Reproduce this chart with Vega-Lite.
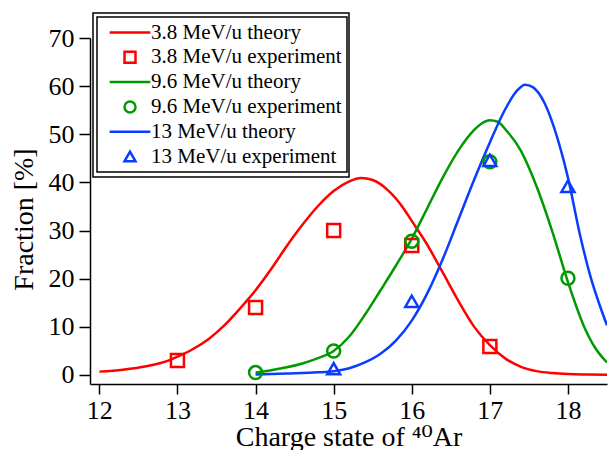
{
  "$schema": "https://vega.github.io/schema/vega-lite/v6.json",
  "width": 517,
  "height": 346,
  "autosize": {"type": "none"},
  "padding": {"left": 90, "top": 38, "right": 5, "bottom": 66},
  "background": "white",
  "config": {
    "view": {"stroke": null},
    "font": "Liberation Serif, Times New Roman, DejaVu Serif, serif",
    "axis": {
      "labelFont": "Liberation Serif, Times New Roman, DejaVu Serif, serif",
      "titleFont": "Liberation Serif, Times New Roman, DejaVu Serif, serif",
      "labelFontSize": 26,
      "titleFontSize": 28,
      "titleFontWeight": "normal",
      "labelColor": "black",
      "titleColor": "black",
      "domainColor": "black",
      "tickColor": "black",
      "domainWidth": 1.5,
      "tickWidth": 1.5,
      "tickSize": 10,
      "grid": false
    },
    "legend": {
      "strokeWidth": 1.5,
      "labelFont": "Liberation Serif, Times New Roman, DejaVu Serif, serif"
    },
    "point": {"size": 169}
  },
  "datasets": {
    "theory": [
      {"series": "3.8 MeV/u theory", "q": 12.0, "f": 0.7},
      {"series": "3.8 MeV/u theory", "q": 12.3, "f": 1.1},
      {"series": "3.8 MeV/u theory", "q": 12.6, "f": 1.8},
      {"series": "3.8 MeV/u theory", "q": 12.9, "f": 3.1},
      {"series": "3.8 MeV/u theory", "q": 13.0, "f": 3.8},
      {"series": "3.8 MeV/u theory", "q": 13.2, "f": 5.4},
      {"series": "3.8 MeV/u theory", "q": 13.4, "f": 7.5},
      {"series": "3.8 MeV/u theory", "q": 13.6, "f": 10.3},
      {"series": "3.8 MeV/u theory", "q": 13.8, "f": 13.8},
      {"series": "3.8 MeV/u theory", "q": 14.0, "f": 17.6},
      {"series": "3.8 MeV/u theory", "q": 14.2, "f": 22.0},
      {"series": "3.8 MeV/u theory", "q": 14.4, "f": 26.8},
      {"series": "3.8 MeV/u theory", "q": 14.6, "f": 31.2},
      {"series": "3.8 MeV/u theory", "q": 14.8, "f": 35.1},
      {"series": "3.8 MeV/u theory", "q": 15.0, "f": 38.2},
      {"series": "3.8 MeV/u theory", "q": 15.2, "f": 40.2},
      {"series": "3.8 MeV/u theory", "q": 15.35, "f": 40.9},
      {"series": "3.8 MeV/u theory", "q": 15.5, "f": 40.5},
      {"series": "3.8 MeV/u theory", "q": 15.7, "f": 38.3},
      {"series": "3.8 MeV/u theory", "q": 15.9, "f": 34.5},
      {"series": "3.8 MeV/u theory", "q": 16.0, "f": 32.0},
      {"series": "3.8 MeV/u theory", "q": 16.2, "f": 27.0},
      {"series": "3.8 MeV/u theory", "q": 16.4, "f": 21.2},
      {"series": "3.8 MeV/u theory", "q": 16.6, "f": 15.3},
      {"series": "3.8 MeV/u theory", "q": 16.8, "f": 10.0},
      {"series": "3.8 MeV/u theory", "q": 17.0, "f": 6.2},
      {"series": "3.8 MeV/u theory", "q": 17.2, "f": 3.4},
      {"series": "3.8 MeV/u theory", "q": 17.4, "f": 1.7},
      {"series": "3.8 MeV/u theory", "q": 17.6, "f": 0.8},
      {"series": "3.8 MeV/u theory", "q": 17.8, "f": 0.4},
      {"series": "3.8 MeV/u theory", "q": 18.0, "f": 0.2},
      {"series": "3.8 MeV/u theory", "q": 18.25, "f": 0.1},
      {"series": "3.8 MeV/u theory", "q": 18.5, "f": 0.05},
      {"series": "9.6 MeV/u theory", "q": 14.0, "f": 0.5},
      {"series": "9.6 MeV/u theory", "q": 14.2, "f": 1.0},
      {"series": "9.6 MeV/u theory", "q": 14.4, "f": 1.6},
      {"series": "9.6 MeV/u theory", "q": 14.6, "f": 2.4},
      {"series": "9.6 MeV/u theory", "q": 14.8, "f": 3.5},
      {"series": "9.6 MeV/u theory", "q": 15.0, "f": 5.0},
      {"series": "9.6 MeV/u theory", "q": 15.2, "f": 8.0},
      {"series": "9.6 MeV/u theory", "q": 15.4, "f": 12.5},
      {"series": "9.6 MeV/u theory", "q": 15.6, "f": 17.6},
      {"series": "9.6 MeV/u theory", "q": 15.8, "f": 22.8},
      {"series": "9.6 MeV/u theory", "q": 16.0, "f": 28.3},
      {"series": "9.6 MeV/u theory", "q": 16.2, "f": 34.7},
      {"series": "9.6 MeV/u theory", "q": 16.4, "f": 41.1},
      {"series": "9.6 MeV/u theory", "q": 16.6, "f": 46.7},
      {"series": "9.6 MeV/u theory", "q": 16.8, "f": 50.9},
      {"series": "9.6 MeV/u theory", "q": 16.9, "f": 52.3},
      {"series": "9.6 MeV/u theory", "q": 17.0, "f": 52.9},
      {"series": "9.6 MeV/u theory", "q": 17.1, "f": 52.6},
      {"series": "9.6 MeV/u theory", "q": 17.2, "f": 51.0},
      {"series": "9.6 MeV/u theory", "q": 17.4, "f": 46.5},
      {"series": "9.6 MeV/u theory", "q": 17.6, "f": 39.1},
      {"series": "9.6 MeV/u theory", "q": 17.8, "f": 29.8},
      {"series": "9.6 MeV/u theory", "q": 18.0, "f": 19.3},
      {"series": "9.6 MeV/u theory", "q": 18.2, "f": 10.3},
      {"series": "9.6 MeV/u theory", "q": 18.35, "f": 5.6},
      {"series": "9.6 MeV/u theory", "q": 18.5, "f": 2.6},
      {"series": "13 MeV/u theory", "q": 14.0, "f": 0.1},
      {"series": "13 MeV/u theory", "q": 14.4, "f": 0.3},
      {"series": "13 MeV/u theory", "q": 14.8, "f": 0.55},
      {"series": "13 MeV/u theory", "q": 15.0, "f": 0.8},
      {"series": "13 MeV/u theory", "q": 15.2, "f": 1.4},
      {"series": "13 MeV/u theory", "q": 15.4, "f": 2.6},
      {"series": "13 MeV/u theory", "q": 15.6, "f": 4.4},
      {"series": "13 MeV/u theory", "q": 15.8, "f": 7.2},
      {"series": "13 MeV/u theory", "q": 16.0, "f": 11.3},
      {"series": "13 MeV/u theory", "q": 16.2, "f": 17.0},
      {"series": "13 MeV/u theory", "q": 16.4, "f": 24.2},
      {"series": "13 MeV/u theory", "q": 16.6, "f": 32.4},
      {"series": "13 MeV/u theory", "q": 16.8, "f": 40.6},
      {"series": "13 MeV/u theory", "q": 17.0, "f": 48.3},
      {"series": "13 MeV/u theory", "q": 17.2, "f": 55.3},
      {"series": "13 MeV/u theory", "q": 17.35, "f": 59.1},
      {"series": "13 MeV/u theory", "q": 17.45, "f": 60.3},
      {"series": "13 MeV/u theory", "q": 17.55, "f": 59.8},
      {"series": "13 MeV/u theory", "q": 17.7, "f": 56.5},
      {"series": "13 MeV/u theory", "q": 17.85, "f": 50.0},
      {"series": "13 MeV/u theory", "q": 18.0, "f": 41.0},
      {"series": "13 MeV/u theory", "q": 18.15, "f": 29.4},
      {"series": "13 MeV/u theory", "q": 18.3, "f": 19.8},
      {"series": "13 MeV/u theory", "q": 18.4, "f": 14.8},
      {"series": "13 MeV/u theory", "q": 18.5, "f": 10.3}
    ],
    "experiment": [
      {"series": "3.8 MeV/u experiment", "q": 13, "f": 3.0},
      {"series": "3.8 MeV/u experiment", "q": 14, "f": 14.0},
      {"series": "3.8 MeV/u experiment", "q": 15, "f": 30.0},
      {"series": "3.8 MeV/u experiment", "q": 16, "f": 26.9},
      {"series": "3.8 MeV/u experiment", "q": 17, "f": 5.9},
      {"series": "9.6 MeV/u experiment", "q": 14, "f": 0.5},
      {"series": "9.6 MeV/u experiment", "q": 15, "f": 5.0},
      {"series": "9.6 MeV/u experiment", "q": 16, "f": 27.8},
      {"series": "9.6 MeV/u experiment", "q": 17, "f": 44.3},
      {"series": "9.6 MeV/u experiment", "q": 18, "f": 20.1},
      {"series": "\u200413 MeV/u experiment", "q": 15, "f": 1.3},
      {"series": "\u200413 MeV/u experiment", "q": 16, "f": 15.3},
      {"series": "\u200413 MeV/u experiment", "q": 17, "f": 44.6},
      {"series": "\u200413 MeV/u experiment", "q": 18, "f": 39.2}
    ]
  },
  "layer": [
    {
      "data": {"name": "theory"},
      "mark": {"type": "line", "strokeWidth": 2.5, "interpolate": "monotone", "clip": true},
      "encoding": {
        "x": {
          "field": "q", "type": "quantitative",
          "scale": {"domain": [11.88, 18.5], "nice": false, "zero": false},
          "axis": {"values": [12, 13, 14, 15, 16, 17, 18], "format": "d", "labelPadding": 3, "title": "Charge state of ⁴⁰Ar", "titlePadding": 0}
        },
        "y": {
          "field": "f", "type": "quantitative",
          "scale": {"domain": [-1.87, 70], "nice": false, "zero": false},
          "axis": {"values": [0, 10, 20, 30, 40, 50, 60, 70], "format": "d", "tickSize": 11, "labelPadding": 5, "title": "Fraction [%]", "titleX": -52, "titleY": 181}
        },
        "stroke": {
          "field": "series", "type": "nominal",
          "scale": {"domain": ["3.8 MeV/u theory", "9.6 MeV/u theory", "13 MeV/u theory"], "range": ["#ff0000", "#009a00", "#0a3cff"]},
          "legend": {
            "title": null, "orient": "none", "legendX": 3, "legendY": -25,
            "padding": 0, "strokeColor": "black", "fillColor": "transparent",
            "labelFontSize": 1, "labelOpacity": 0, "labelOffset": 246, "labelLimit": 400,
            "symbolOffset": 0, "symbolSize": 4, "symbolOpacity": 0, "symbolStrokeWidth": 0,
            "symbolType": "square", "rowPadding": 79
          }
        }
      }
    },
    {
      "data": {"name": "experiment"},
      "mark": {"type": "point", "filled": false, "strokeWidth": 2.5, "opacity": 1},
      "encoding": {
        "x": {"field": "q", "type": "quantitative"},
        "y": {"field": "f", "type": "quantitative"},
        "color": {
          "field": "series", "type": "nominal",
          "scale": {"domain": ["3.8 MeV/u theory", "3.8 MeV/u experiment", "9.6 MeV/u theory", "9.6 MeV/u experiment", "\u200413 MeV/u theory", "\u200413 MeV/u experiment"], "range": ["#ff0000", "#ff0000", "#009a00", "#009a00", "#0a3cff", "#0a3cff"]},
          "legend": {
            "title": null, "orient": "none", "legendX": 7, "legendY": -21,
            "padding": 5, "strokeColor": "black", "fillColor": "white",
            "labelFontSize": 21, "labelColor": "black",
            "labelLimit": 400, "labelOffset": 10.5, "symbolOffset": 17.5,
            "symbolSize": 121, "symbolStrokeWidth": 2.5, "rowPadding": 2.8
          }
        },
        "shape": {
          "field": "series", "type": "nominal",
          "scale": {"domain": ["3.8 MeV/u theory", "3.8 MeV/u experiment", "9.6 MeV/u theory", "9.6 MeV/u experiment", "\u200413 MeV/u theory", "\u200413 MeV/u experiment"], "range": ["M-3.7,0L3.7,0", "square", "M-3.7,0L3.7,0", "circle", "M-3.7,0L3.7,0", "triangle-up"]}
        }
      }
    }
  ]
}
